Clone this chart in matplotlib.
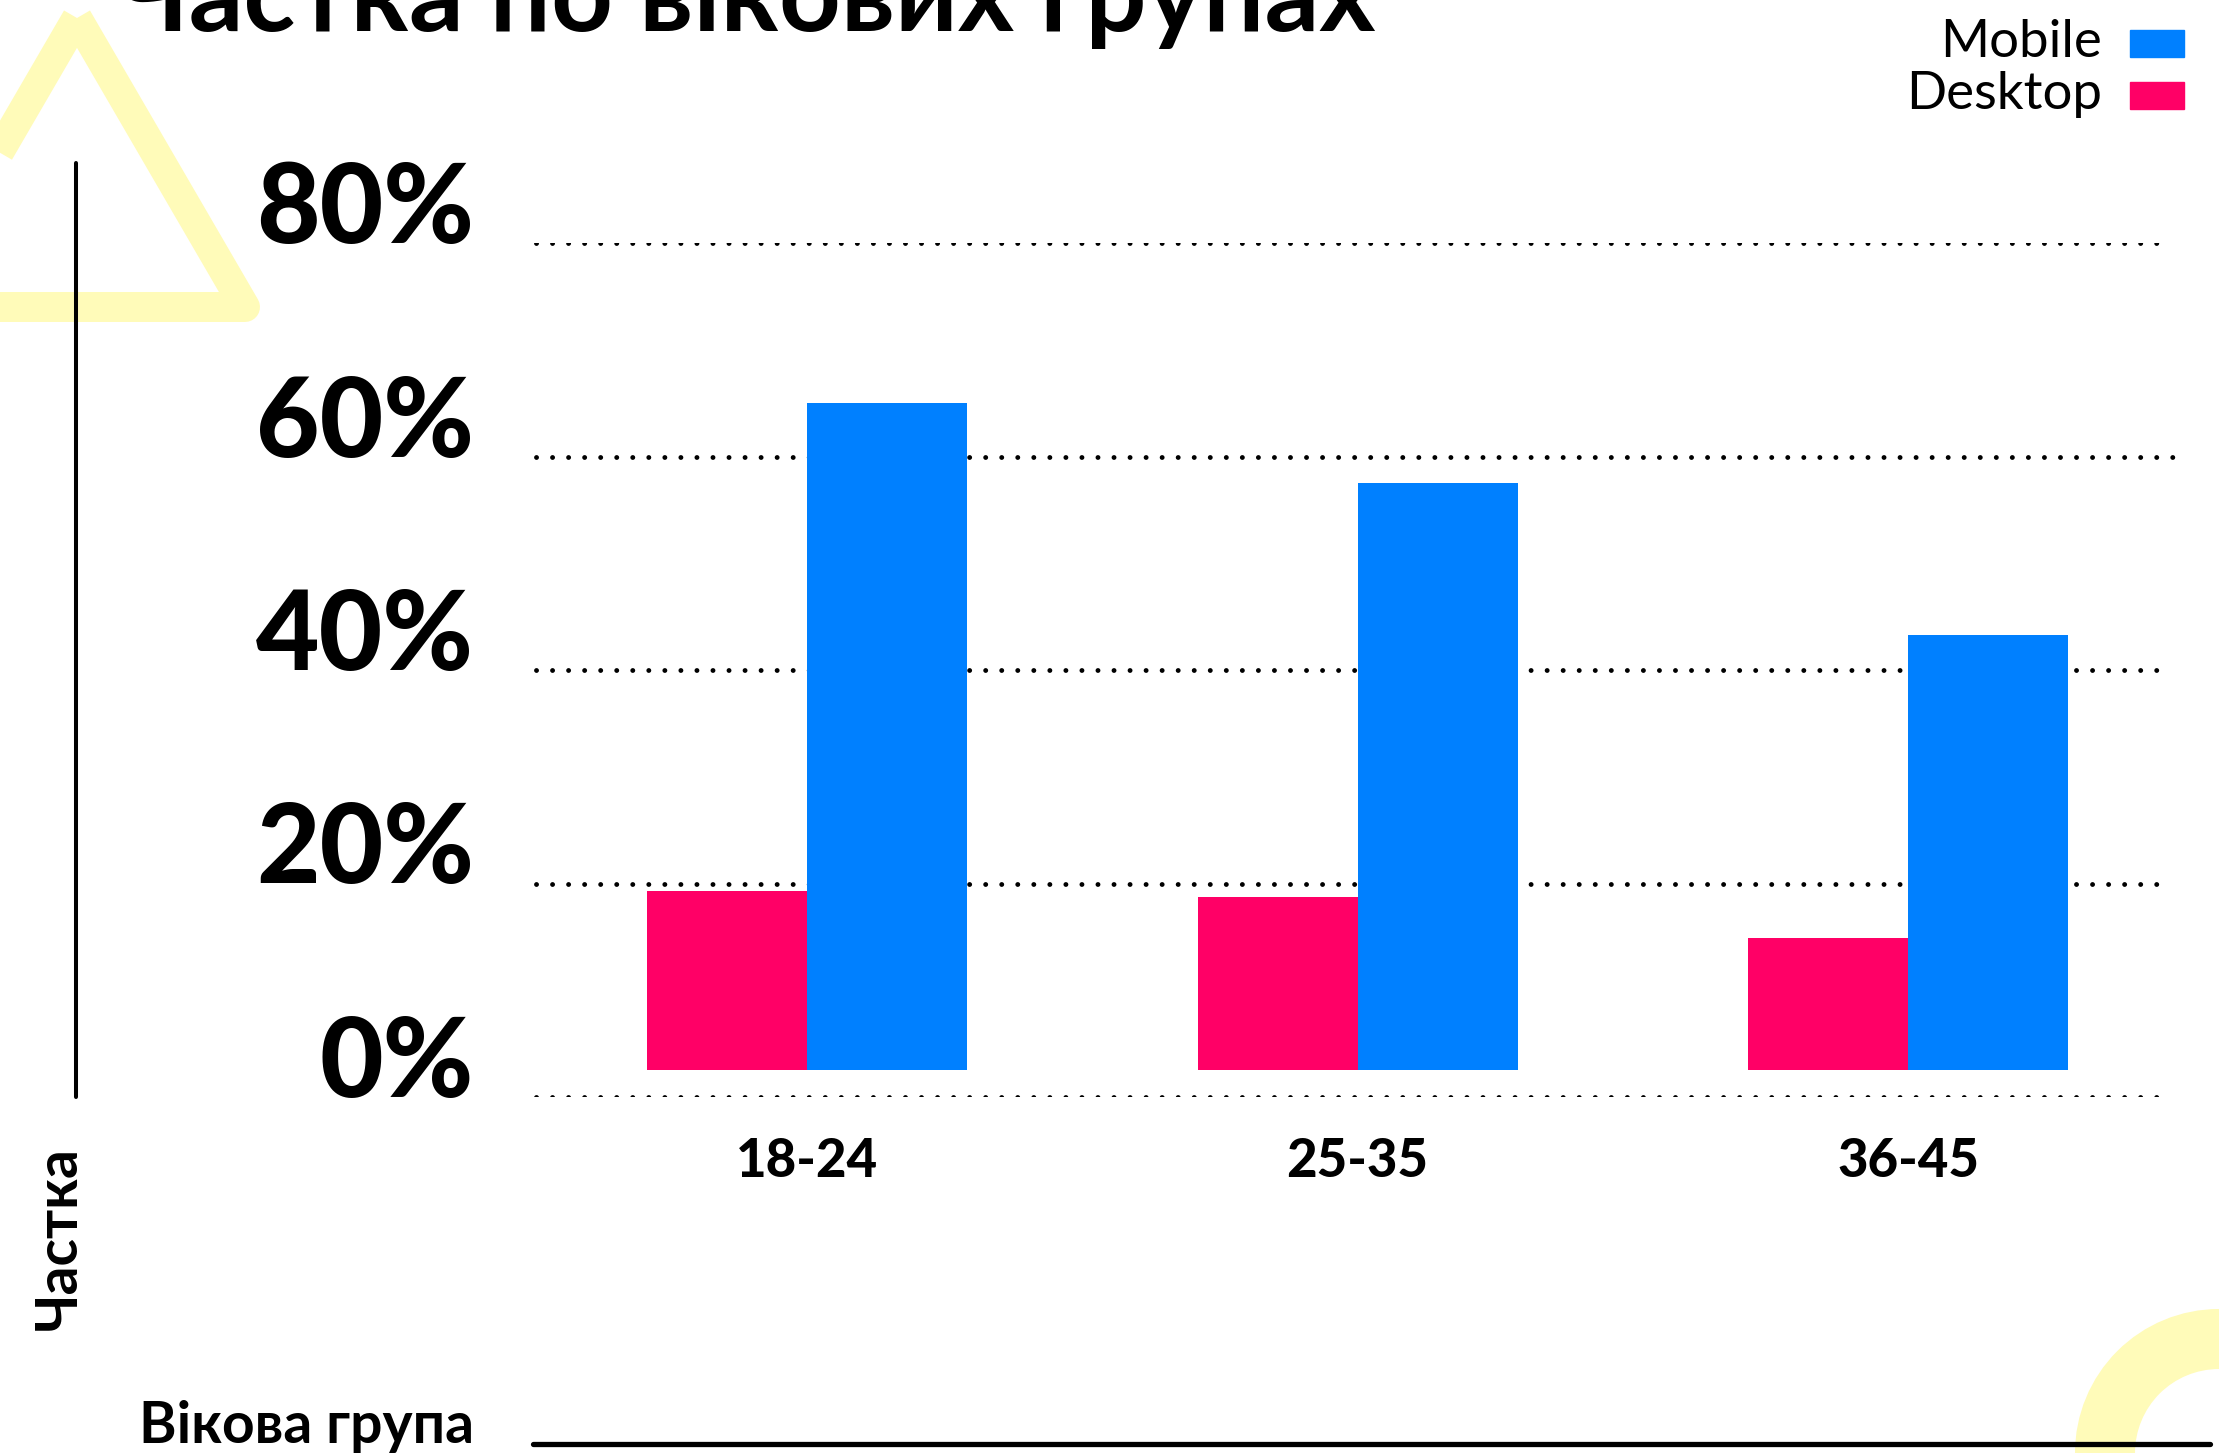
import numpy as np
import matplotlib
matplotlib.use("Agg")
import matplotlib.pyplot as plt
import matplotlib.patches as patches

# --- дані ---
age_groups = ["18-24", "25-35", "36-45"]
mobile = [65.0, 57.5, 43.3]
desktop = [19.3, 18.7, 14.9]
y_ticks = [0, 20, 40, 60, 80]

BLUE = "#0080FF"
PINK = "#FF0066"
YELLOW = "#FFFBB9"
W, H = 2219, 1453

plt.rcParams["font.family"] = ["Lato", "DejaVu Sans"]

fig = plt.figure(figsize=(W / 100, H / 100), dpi=100)

# фон у пікселях: декоративні фігури та лінії
bg = fig.add_axes([0, 0, 1, 1], zorder=0)
bg.set_xlim(0, W)
bg.set_ylim(H, 0)
bg.axis("off")
bg.add_patch(patches.Polygon([(77, 18), (245, 307), (-91, 307)], closed=True, fill=False,
                             edgecolor=YELLOW, lw=21.6, joinstyle="round"))
bg.add_patch(patches.Circle((2219, 1453), 114, fill=False, edgecolor=YELLOW, lw=43.2))
bg.plot([76, 76], [163, 1097], color="black", lw=2.9, solid_capstyle="round")
bg.plot([533, 2210], [1443.5, 1443.5], color="black", lw=3.8, solid_capstyle="round")

# --- графік ---
left, right, top, bottom = 531.75, 2183.25, 243, 1097
ax = fig.add_axes([left / W, 1 - bottom / H, (right - left) / W, (bottom - top) / H], zorder=1)
ax.patch.set_alpha(0)
ax.set_xlim(-0.5, 2.5)
ax.set_ylim(0, 80)
for s in ax.spines.values():
    s.set_visible(False)
ax.set_xticks([])
ax.set_yticks([])

for t in y_ticks:
    x_end = 2.508 if t == 60 else 2.476
    ax.plot([-0.492, x_end], [t, t], color="black", lw=3.5, linestyle=(0, (0.01, 3.29)),
            dash_capstyle="round", zorder=1)
    ax.text(-0.035, t, f"{t}%", transform=ax.get_yaxis_transform(), ha="right", va="baseline",
            fontsize=79, fontweight="black")

x = np.arange(len(age_groups))
bw = 160 / 550.5
bar_base = 2.5
ax.bar(x - bw / 2, np.array(desktop) - bar_base, bw, bottom=bar_base, color=PINK, zorder=2)
ax.bar(x + bw / 2, np.array(mobile) - bar_base, bw, bottom=bar_base, color=BLUE, zorder=2)

for i, g in enumerate(age_groups):
    ax.text(i, -0.0937, g, transform=ax.get_xaxis_transform(), ha="center", va="baseline",
            fontsize=38, fontweight="black")

# --- підписи ---
fig.text(116 / W, 1 - 31 / H, "Частка по вікових групах", fontsize=77.5, fontweight="bold",
         va="baseline", ha="left")
fig.text(474 / W, 1 - 1443 / H, "Вікова група", fontsize=41, fontweight="bold",
         ha="right", va="baseline")
fig.text(59 / W, 1 - 1238 / H, "Частка", fontsize=41, fontweight="bold", rotation=90,
         ha="center", va="center")

# легенда
for name, color, base in [("Mobile", BLUE, 57), ("Desktop", PINK, 109)]:
    bg.text(2102, base, name, ha="right", va="baseline", fontsize=38)
    bg.add_patch(patches.Rectangle((2130, base - 27), 54, 27, color=color))

fig.savefig("out.png", dpi=100)
